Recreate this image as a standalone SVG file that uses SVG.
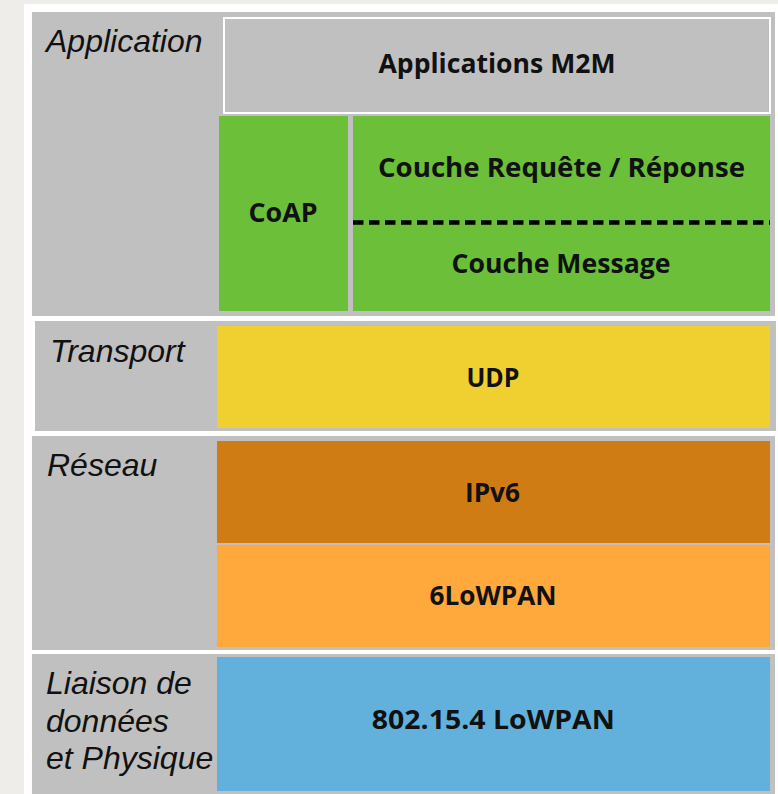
<svg xmlns="http://www.w3.org/2000/svg" width="778" height="794" viewBox="0 0 778 794">
<style>
.panel{fill:#c0c0c0}
.lbl{font-family:"Liberation Sans",Arial,sans-serif;font-style:italic;font-size:32px;fill:#111}
.t{font-family:"Open Sans","DejaVu Sans",sans-serif;font-weight:700;font-size:26px;fill:#111;text-anchor:middle}
</style>
<rect x="0" y="0" width="778" height="794" fill="#efede9"/>
<rect x="24" y="4" width="754" height="790" fill="#ffffff"/>
<g id="layer-application">
<rect class="panel" x="32" y="12" width="743" height="304"/>
<text class="lbl" x="46" y="52">Application</text>
</g>
<g id="layer-transport">
<rect class="panel" x="35" y="321" width="741" height="110"/>
<text class="lbl" x="50" y="362">Transport</text>
</g>
<g id="layer-reseau">
<rect class="panel" x="32" y="436" width="743" height="214"/>
<text class="lbl" x="47" y="476">Réseau</text>
</g>
<g id="layer-liaison">
<rect class="panel" x="32" y="654" width="743" height="140"/>
<text class="lbl" x="46" y="694">Liaison de</text>
<text class="lbl" x="46" y="731.5">données</text>
<text class="lbl" x="46" y="769">et Physique</text>
</g>
<g id="node-m2m">
<rect x="224" y="18" width="546" height="95" fill="#c0c0c0" stroke="#ffffff" stroke-width="2"/>
<text class="t" x="497" y="73" textLength="237" lengthAdjust="spacingAndGlyphs">Applications M2M</text>
</g>
<g id="node-coap">
<rect x="219" y="116" width="129" height="195" fill="#6cbf38"/>
<text class="t" x="283" y="222" textLength="69" lengthAdjust="spacingAndGlyphs">CoAP</text>
</g>
<g id="node-coap-layers">
<rect x="353" y="116" width="417" height="195" fill="#6cbf38"/>
<text class="t" x="561.5" y="177" textLength="367" lengthAdjust="spacingAndGlyphs">Couche Requête / Réponse</text>
<text class="t" x="561" y="273" textLength="219" lengthAdjust="spacingAndGlyphs">Couche Message</text>
</g>
<g id="node-udp">
<rect x="217" y="326" width="553" height="102" fill="#f0d031"/>
<text class="t" x="493" y="387" textLength="53" lengthAdjust="spacingAndGlyphs">UDP</text>
</g>
<g id="node-ipv6">
<rect x="217" y="441" width="553" height="102" fill="#d07c14"/>
<text class="t" x="492.5" y="502" textLength="55" lengthAdjust="spacingAndGlyphs">IPv6</text>
</g>
<g id="node-6lowpan">
<rect x="217" y="545" width="553" height="102" fill="#ffa83b"/>
<text class="t" x="493" y="605" textLength="127" lengthAdjust="spacingAndGlyphs">6LoWPAN</text>
</g>
<g id="node-802154">
<rect x="217" y="657" width="553" height="134" fill="#62b1dd"/>
<text class="t" x="493.3" y="729" textLength="243" lengthAdjust="spacingAndGlyphs">802.15.4 LoWPAN</text>
</g>
<g id="connectors">
<line x1="353" y1="222.5" x2="770" y2="222.5" stroke="#000" stroke-width="4.5" stroke-dasharray="10.5 5.5"/>
</g>
</svg>
